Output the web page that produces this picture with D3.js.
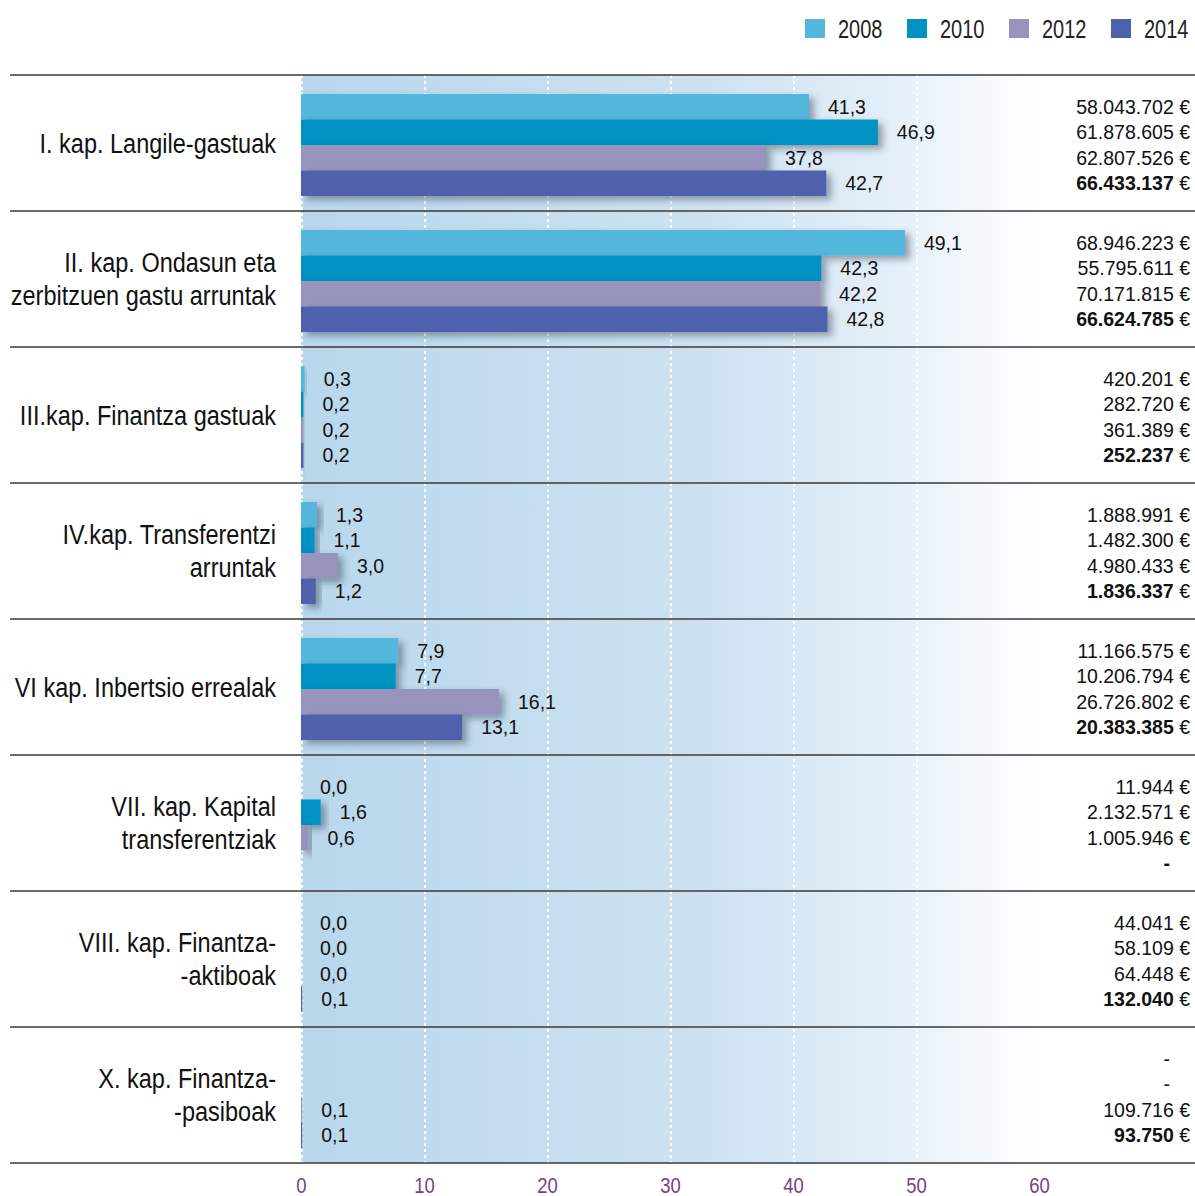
<!DOCTYPE html>
<html>
<head>
<meta charset="utf-8">
<script src="https://cdn.jsdelivr.net/npm/d3@7"></script>
<style>
  body { margin: 0; background: #fff; }
  svg { display: block; }
</style>
</head>
<body>
<svg width="1195" height="1196"></svg>
<script>
// categories, each split in display lines
const categories = [
  ["I. kap. Langile-gastuak"],
  ["II. kap. Ondasun eta", "zerbitzuen gastu arruntak"],
  ["III.kap. Finantza gastuak"],
  ["IV.kap. Transferentzi", "arruntak"],
  ["VI kap. Inbertsio errealak"],
  ["VII. kap. Kapital", "transferentziak"],
  ["VIII. kap. Finantza-", "-aktiboak"],
  ["X. kap. Finantza-", "-pasiboak"]
]
const years = ["2008", "2010", "2012", "2014"]

// percentages (null = no data)
const pct2008 = [41.3, 49.1, 0.3, 1.3, 7.9, 0.0, 0.0, null]
const pct2010 = [46.9, 42.3, 0.2, 1.1, 7.7, 1.6, 0.0, null]
const pct2012 = [37.8, 42.2, 0.2, 3.0, 16.1, 0.6, 0.0, 0.1]
const pct2014 = [42.7, 42.8, 0.2, 1.2, 13.1, null, 0.1, 0.1]

// amounts in euro
const eur2008 = ["58.043.702", "68.946.223", "420.201", "1.888.991", "11.166.575", "11.944", "44.041", "-"]
const eur2010 = ["61.878.605", "55.795.611", "282.720", "1.482.300", "10.206.794", "2.132.571", "58.109", "-"]
const eur2012 = ["62.807.526", "70.171.815", "361.389", "4.980.433", "26.726.802", "1.005.946", "64.448", "109.716"]
const eur2014 = ["66.433.137", "66.624.785", "252.237", "1.836.337", "20.383.385", "-", "132.040", "93.750"]

const xTicks = [0, 10, 20, 30, 40, 50, 60]

const pctByYear = [pct2008, pct2010, pct2012, pct2014]
const eurByYear = [eur2008, eur2010, eur2012, eur2014]
const colors = ["#53b7de", "#0092c2", "#9893bc", "#4f61ad"]

const svg = d3.select("svg")
const font = "'Liberation Sans', Arial, Helvetica, sans-serif"
const narrow = 0.84   // horizontal squeeze to mimic the condensed face

const x = d3.scaleLinear().domain([0, 60]).range([301, 1039])
const y = d3.scaleBand().domain(d3.range(categories.length)).range([75, 1163])
const yInner = d3.scaleBand().domain(years).range([19, 121])
const color = d3.scaleOrdinal(years, colors)

const defs = svg.append("defs")
const grad = defs.append("linearGradient")
  .attr("id", "bg")
  .attr("x1", "0%").attr("x2", "100%").attr("y1", "0%").attr("y2", "0%")
grad.append("stop").attr("offset", "0%").attr("stop-color", "#b9d7ec")
grad.append("stop").attr("offset", "55%").attr("stop-color", "#cde2f1")
grad.append("stop").attr("offset", "80%").attr("stop-color", "#e4eff8")
grad.append("stop").attr("offset", "100%").attr("stop-color", "#ffffff")

const shadow = defs.append("filter").attr("id", "shadow")
  .attr("x", "-20%").attr("y", "-50%").attr("width", "160%").attr("height", "250%")
shadow.append("feDropShadow")
  .attr("dx", 5).attr("dy", 4).attr("stdDeviation", 3.5)
  .attr("flood-color", "#2a3a4a").attr("flood-opacity", 0.45)

// background
svg.append("rect")
  .attr("x", x(0)).attr("y", y.range()[0])
  .attr("width", x(60) - x(0)).attr("height", y.range()[1] - y.range()[0])
  .attr("fill", "url(#bg)")

// dotted white gridlines
svg.append("g").selectAll("line")
  .data(xTicks.slice(0, 6))
  .join("line")
  .attr("x1", d => x(d) + 1).attr("x2", d => x(d) + 1)
  .attr("y1", y.range()[0]).attr("y2", y.range()[1])
  .attr("stroke", "#fff")
  .attr("stroke-width", 2)
  .attr("stroke-dasharray", "3,3")

// bars
const rows = svg.append("g").selectAll("g")
  .data(categories)
  .join("g")
  .attr("transform", (d, i) => `translate(0,${y(i)})`)

rows.each(function(cat, i) {
  const g = d3.select(this)
  const items = years.map((yr, j) => ({ yr: yr, v: pctByYear[j][i], eur: eurByYear[j][i] }))

  g.selectAll("rect")
    .data(items.filter(d => d.v !== null && d.v > 0))
    .join("rect")
    .attr("x", x(0))
    .attr("y", d => yInner(d.yr))
    .attr("width", d => x(d.v) - x(0))
    .attr("height", yInner.bandwidth())
    .attr("fill", d => color(d.yr))
    .attr("filter", "url(#shadow)")

  g.selectAll("text.val")
    .data(items.filter(d => d.v !== null))
    .join("text")
    .attr("class", "val")
    .attr("x", d => x(d.v) + 19)
    .attr("y", d => yInner(d.yr) + yInner.bandwidth() / 2)
    .attr("dy", "0.36em")
    .style("font-family", font)
    .style("font-size", "19.5px")
    .attr("fill", "#111")
    .text(d => d3.format(".1f")(d.v).replace(".", ","))

  g.selectAll("text.eur")
    .data(items)
    .join("text")
    .attr("class", "eur")
    .attr("x", d => d.eur === "-" ? 1170 : 1190)
    .attr("y", d => yInner(d.yr) + yInner.bandwidth() / 2)
    .attr("dy", "0.36em")
    .attr("text-anchor", "end")
    .style("font-family", font)
    .style("font-size", "19.5px")
    .attr("fill", "#111")
    .each(function(d) {
      const t = d3.select(this)
      t.append("tspan")
        .style("font-weight", d.yr === "2014" ? "bold" : "normal")
        .text(d.eur)
      if (d.eur !== "-") t.append("tspan").text(" €")
    })

  // category label
  const lh = 33
  const cy = y.bandwidth() / 2 - (cat.length - 1) * lh / 2
  g.append("text")
    .attr("text-anchor", "end")
    .attr("transform", `translate(276,${cy}) scale(${narrow},1)`)
    .style("font-family", font)
    .style("font-size", "28px")
    .attr("fill", "#111")
    .selectAll("tspan")
    .data(cat)
    .join("tspan")
    .attr("x", 0)
    .attr("y", (d, k) => k * lh)
    .attr("dy", "0.35em")
    .text(d => d)
})

// row separators
svg.append("g").selectAll("line")
  .data(d3.range(categories.length + 1))
  .join("line")
  .attr("x1", 10).attr("x2", 1195)
  .attr("y1", d => d === categories.length ? y.range()[1] : y(d))
  .attr("y2", d => d === categories.length ? y.range()[1] : y(d))
  .attr("stroke", "#3a3a3a")
  .attr("stroke-width", 1.4)

// x axis
const axis = svg.append("g")
  .attr("transform", `translate(0,${y.range()[1]})`)
  .call(d3.axisBottom(x).tickValues(xTicks).tickSize(0).tickPadding(14))
axis.select(".domain").remove()
axis.selectAll("text")
  .attr("transform", `scale(${narrow},1)`)
  .style("font-family", font)
  .style("font-size", "22px")
  .attr("fill", "#7a3f88")

// legend
const legend = svg.append("g").selectAll("g")
  .data(years)
  .join("g")
  .attr("transform", (d, i) => `translate(${805 + i * 102},19)`)
legend.append("rect")
  .attr("width", 20).attr("height", 19)
  .attr("fill", d => color(d))
legend.append("text")
  .attr("transform", "translate(33,10) scale(0.8,1)")
  .attr("dy", "0.36em")
  .style("font-family", font)
  .style("font-size", "25px")
  .attr("fill", "#222")
  .text(d => d)
</script>
</body>
</html>
